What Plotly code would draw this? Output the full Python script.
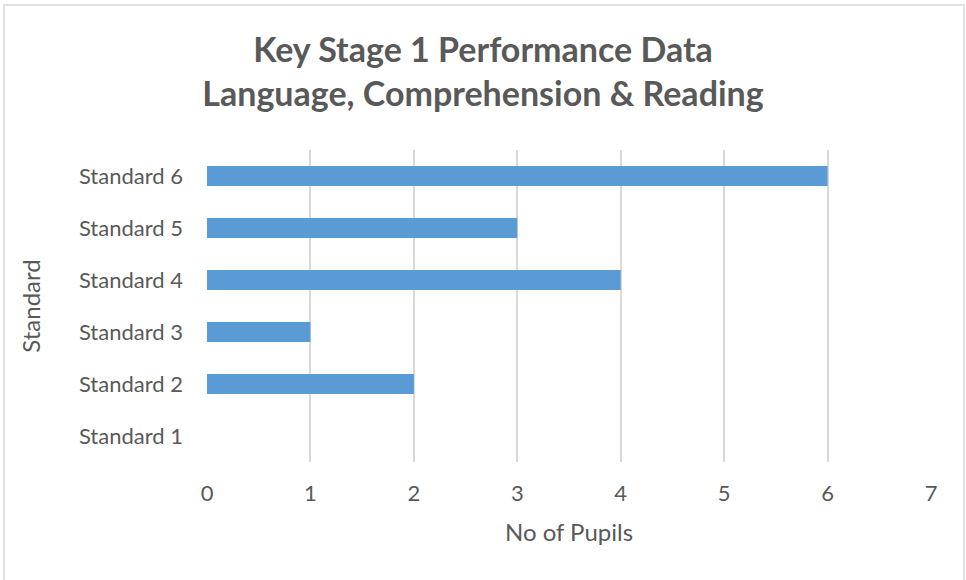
import plotly.graph_objects as go

categories = ["Standard 1", "Standard 2", "Standard 3", "Standard 4", "Standard 5", "Standard 6"]
pupils = [0, 2, 1, 4, 3, 6]
x_ticks = [0, 1, 2, 3, 4, 5, 6, 7]

W, H = 966, 580
L, R, T, B = 207, 35, 150, 118
pw, ph = W - L - R, H - T - B

fig = go.Figure(go.Bar(
    x=pupils, y=categories, orientation="h",
    marker=dict(color="#5b9bd5", line=dict(width=0)),
    width=0.38,
))

fig.update_layout(
    width=W, height=H,
    margin=dict(l=L, r=R, t=T, b=B),
    paper_bgcolor="white", plot_bgcolor="white",
    font=dict(family="Lato, Liberation Sans, sans-serif", color="#595959"),
    title=dict(
        text="<b>Key Stage 1 Performance Data<br>Language, Comprehension &amp; Reading</b>",
        x=0.5, xanchor="center", y=0.893, yanchor="top",
        font=dict(size=34, color="#595959"),
    ),
    showlegend=False,
    xaxis=dict(
        range=[0, 7], tickvals=x_ticks, showgrid=True, gridcolor="#d9d9d9", gridwidth=2,
        zeroline=False, showline=False, ticks="", tickfont=dict(size=22),
        ticklabelstandoff=16,
        title=dict(text="No of Pupils", font=dict(size=24), standoff=19),
    ),
    yaxis=dict(
        categoryorder="array", categoryarray=categories, range=[-0.5, 5.5],
        showgrid=False, zeroline=False, showline=False, ticks="",
        tickfont=dict(size=22), ticklabelstandoff=23,
        title=dict(text="Standard", font=dict(size=24), standoff=31),
    ),
    shapes=[dict(
        type="rect", xref="paper", yref="paper",
        x0=(4 - L) / pw, x1=(964 - L) / pw,
        y0=-(B + 5) / ph, y1=(ph + T - 5) / ph,
        line=dict(color="#d9d9d9", width=1.5), layer="below",
    )],
)

fig.write_html(
    "out.html",
    config={"displayModeBar": False},
    post_script="document.body.style.margin='0';document.body.style.padding='0';window.dispatchEvent(new Event('resize'));",
)
